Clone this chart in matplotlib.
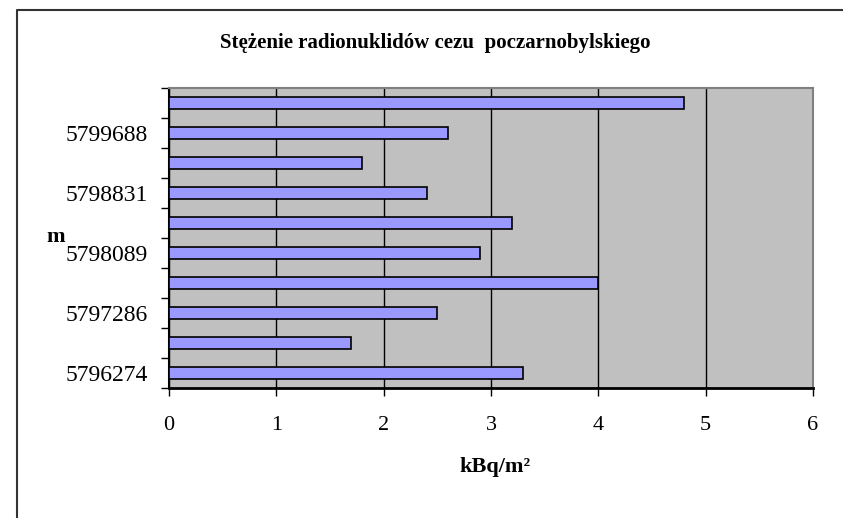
import numpy as np
import matplotlib.pyplot as plt
from matplotlib.lines import Line2D
from matplotlib.ticker import FixedLocator

# categories bottom -> top, only every second one is labelled on the chart
positions = ['5796274', '', '5797286', '', '5798089', '', '5798831', '', '5799688', '']
values = [3.3, 1.7, 2.5, 4.0, 2.9, 3.2, 2.4, 1.8, 2.6, 4.8]
x_ticks = [0, 1, 2, 3, 4, 5, 6]

plt.rcParams['font.family'] = ['Liberation Serif', 'DejaVu Serif']

fig = plt.figure(figsize=(8.43, 5.18), dpi=100)
ax = fig.add_axes([169/843, 1-388/518, 644/843, 300/518])

y = np.arange(len(values))
ax.barh(y, values, height=0.4, color='#9999FF', edgecolor='black', linewidth=1.2, zorder=3)

ax.set_facecolor('#C0C0C0')
ax.set_xlim(0, 6)
ax.set_ylim(-0.5, len(values) - 0.5)
ax.set_xticks(x_ticks)
ax.set_xticklabels([str(t) for t in x_ticks], fontsize=16)
ax.xaxis.grid(True, color='black', linewidth=1.0, zorder=1)
ax.set_axisbelow(True)

ax.set_yticks(y)
ax.set_yticklabels(positions, fontsize=17)
ax.yaxis.set_minor_locator(FixedLocator(np.arange(-0.5, len(values), 1.0)))
ax.tick_params(axis='y', which='major', length=0, pad=15)
ax.tick_params(axis='y', which='minor', length=6, width=1.0, direction='out')
ax.tick_params(axis='x', length=6, width=1.0, direction='out', pad=14)

ax.spines['left'].set_linewidth(1.5)
ax.spines['bottom'].set_linewidth(2)
ax.spines['top'].set_color('#808080')
ax.spines['right'].set_color('#808080')
ax.spines['top'].set_linewidth(1.5)
ax.spines['right'].set_linewidth(1.5)

fig.text(495/843, 1-467/518, 'kBq/m²', fontsize=16, fontweight='bold', ha='center', va='center')
fig.text(56/843, 1-237/518, 'm', fontsize=16, fontweight='bold', ha='center', va='center')
fig.text(435/843, 1-43/518, 'Stężenie radionuklidów cezu  poczarnobylskiego',
         fontsize=15, fontweight='bold', ha='center', va='center')

# outer chart frame (left and top edges visible)
fig.add_artist(Line2D([17/843, 17/843, 1.0], [0.0, 1-10/518, 1-10/518],
                      transform=fig.transFigure, color='#333333', linewidth=1.5))

fig.savefig('out.png', dpi=100)
